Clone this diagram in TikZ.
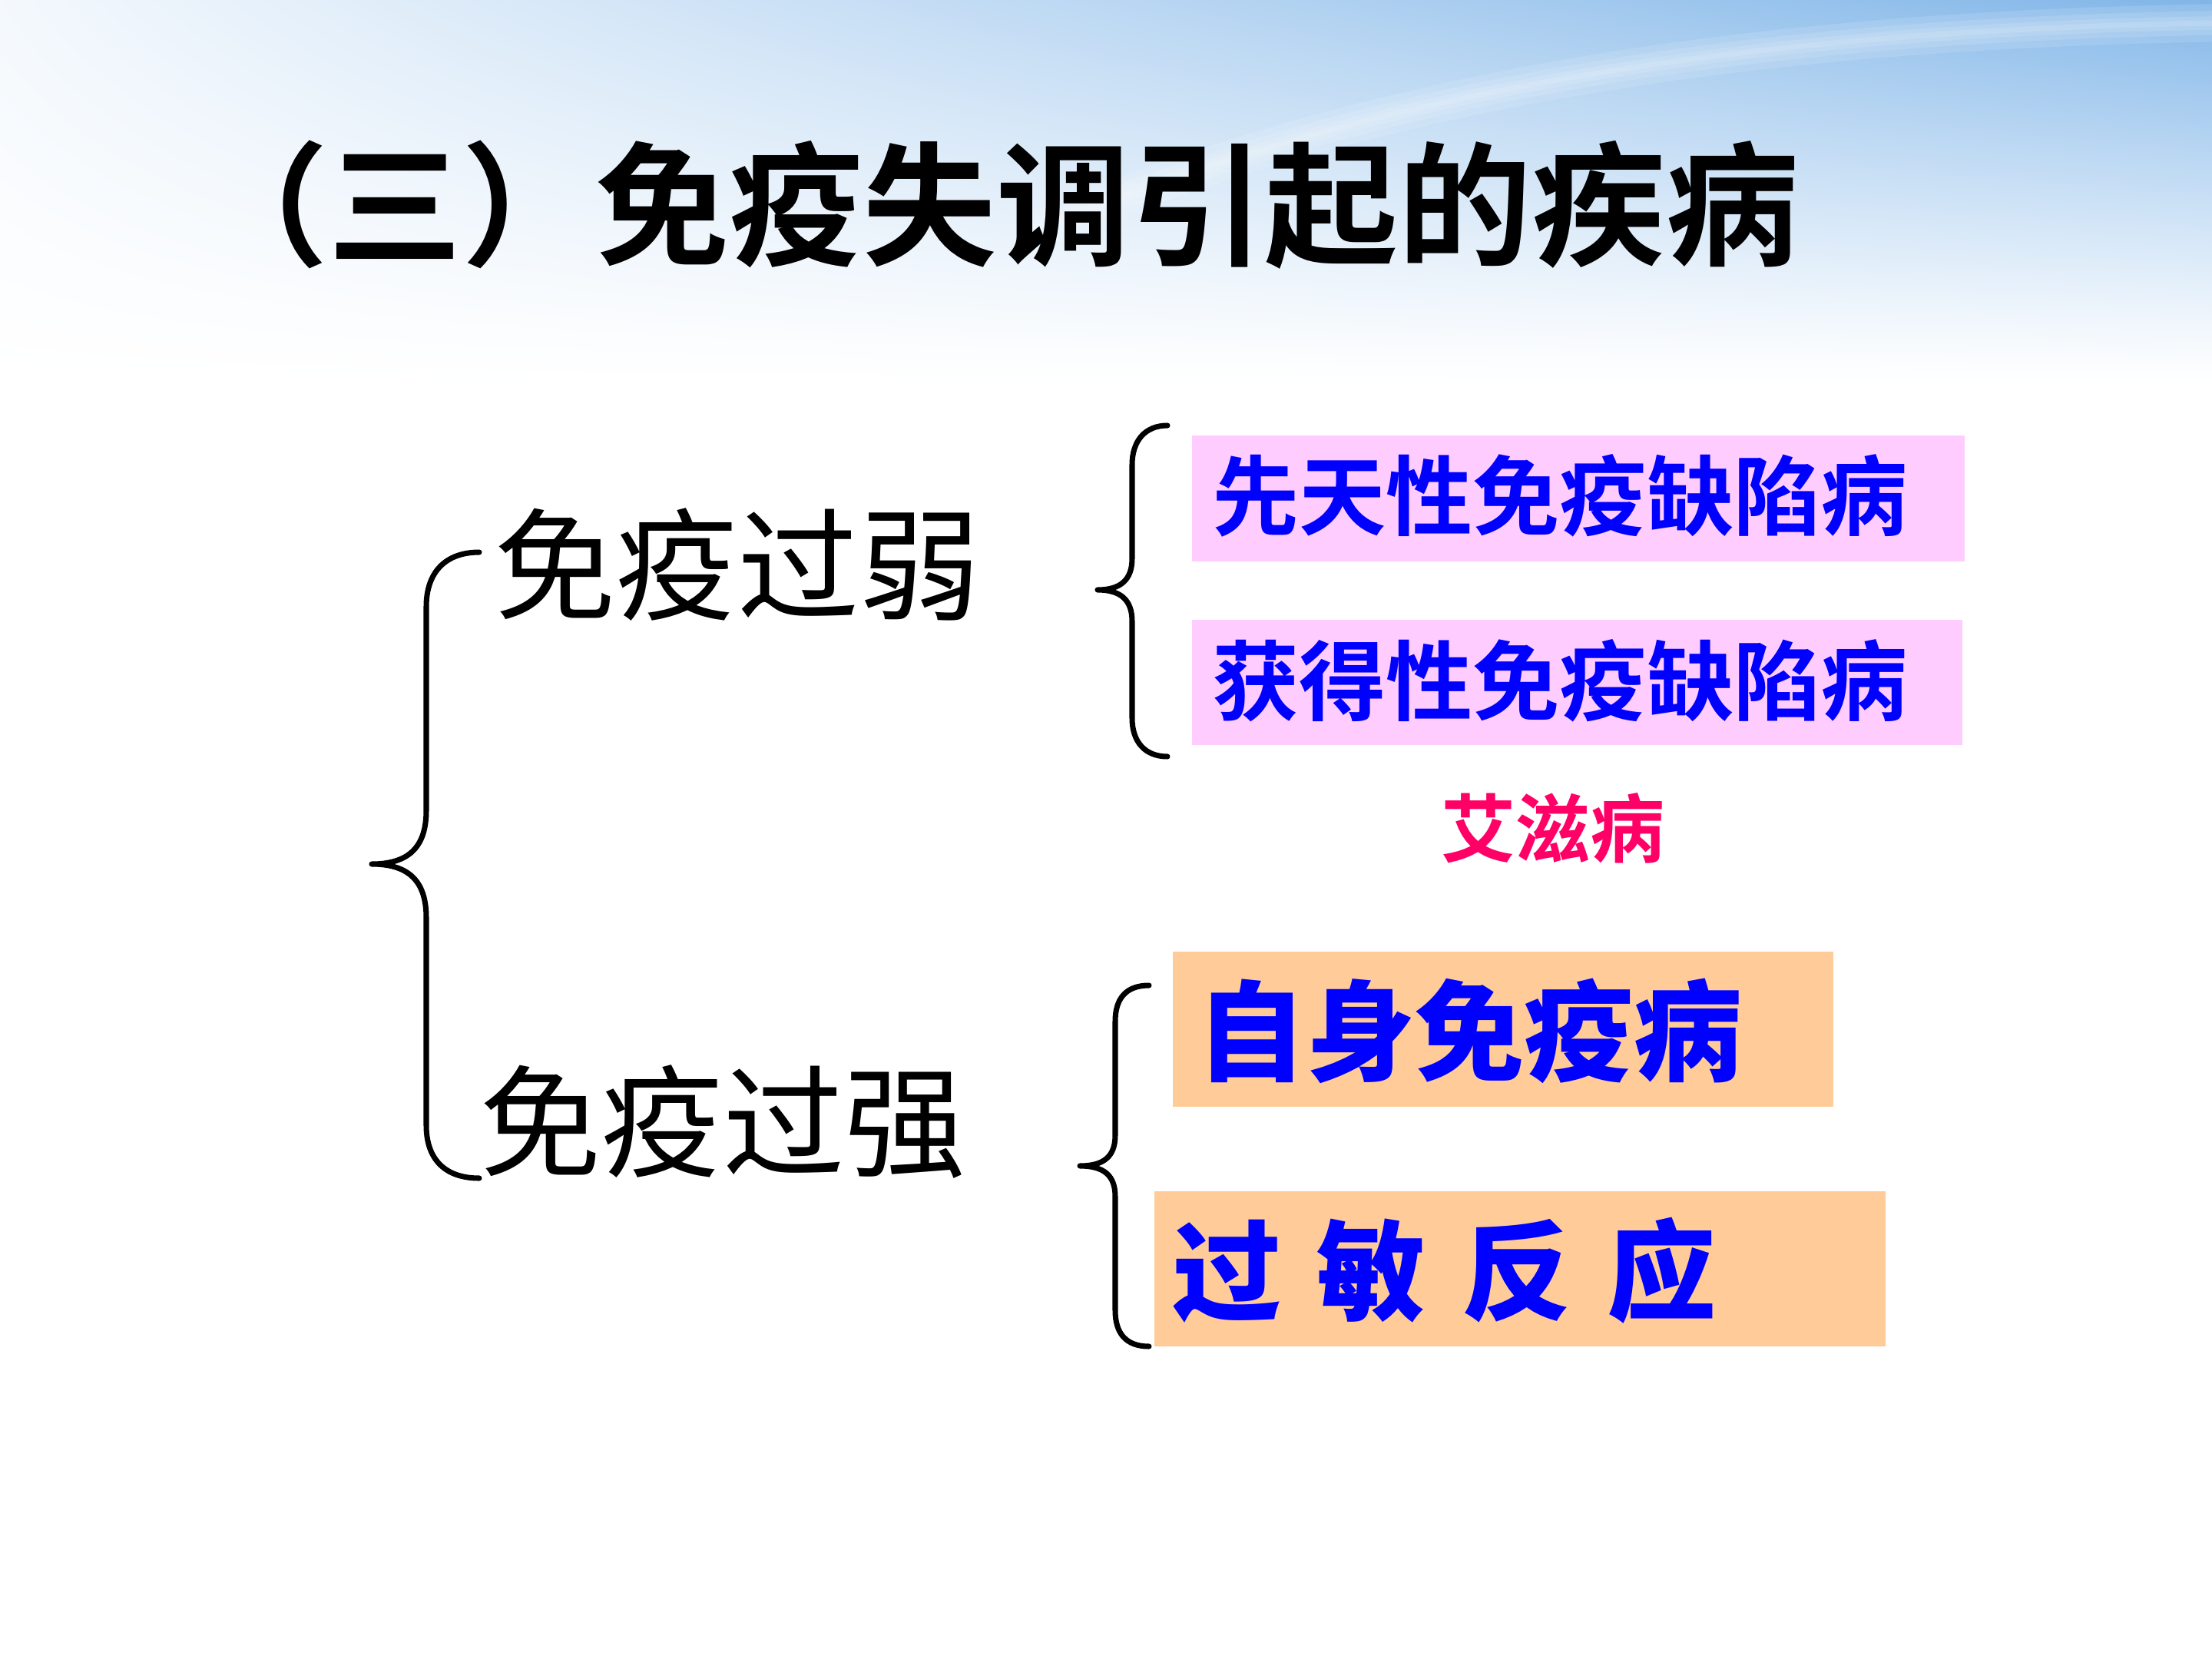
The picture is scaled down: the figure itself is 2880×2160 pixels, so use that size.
\documentclass[tikz,border=0pt]{standalone}
\usepackage{fontspec}
\newfontfamily\cjk{Noto Sans CJK SC}
\newfontfamily\cjkb{Noto Sans CJK SC Bold}
\newfontfamily\cjkk{Noto Sans CJK SC Black}
\definecolor{kblue}{HTML}{0000FF}
\definecolor{pinkbg}{HTML}{FFCCFF}
\definecolor{orangebg}{HTML}{FFCC99}
\definecolor{aidsred}{HTML}{FF0066}
\pgfdeclarefunctionalshading{sky}{\pgfpoint{-50bp}{-50bp}}{\pgfpoint{50bp}{50bp}}{}{
  25 add 50 div
  exch 25 add 50 div
  0.82 mul 0.08 add
  exch dup 0 lt {pop 0} if dup 1.15 exp exch pop
  mul
  dup 0.55 mul 1 exch sub
  exch dup 0.32 mul 1 exch sub
  exch 0.10 mul 1 exch sub
}
\tikzset{
  txt/.style={inner sep=0pt, outer sep=0pt},
  brace/.style={line width=2pt, line cap=round, line join=round, draw=black},
  streak/.style={white, opacity=0.12, line cap=round},
  pinkbox/.style={fill=pinkbg, draw=none, inner sep=0pt, anchor=north west},
  orangebox/.style={fill=orangebg, draw=none, inner sep=0pt, anchor=north west},
  titletxt/.style={txt, font=\cjkb\fontsize{49.5pt}{55pt}\selectfont, text=black},
  leveltxt/.style={txt, font=\cjk\fontsize{45pt}{50pt}\selectfont, text=black},
  pinktxt/.style={txt, font=\cjkb\fontsize{32.2pt}{36pt}\selectfont, text=kblue},
  orangetxt/.style={txt, font=\cjkk\fontsize{40.4pt}{45pt}\selectfont, text=kblue},
  aidstxt/.style={txt, font=\cjkb\fontsize{27.6pt}{31pt}\selectfont, text=aidsred},
}
\begin{document}
\begin{tikzpicture}[x=0.01cm, y=-0.01cm]
\useasboundingbox (0,0) rectangle (2880,2160);
\fill[white] (0,0) rectangle (2880,2160);
% background sky band
\shade[shading=sky] (0,0) rectangle (2880,500);
\foreach \w in {14,9,5,2}{
  \draw[streak, line width=\w pt]
    (1350,300) .. controls (1800,110) and (2300,40) .. (2880,30);
}

% title
\node[titletxt, anchor=base] (title) at (1298,332) {（三）免疫失调引起的疾病};

% level 1 labels
\node[leveltxt, anchor=base] (weak) at (960,795) {免疫过弱};
\node[leveltxt, anchor=base] (strong) at (941,1520) {免疫过强};

% boxes
\node[pinkbox, minimum width=10.06cm, minimum height=1.64cm] (p1) at (1551,566) {};
\node[pinkbox, minimum width=10.03cm, minimum height=1.63cm] (p2) at (1551,806) {};
\node[orangebox, minimum width=8.60cm, minimum height=2.02cm] (o1) at (1526,1238) {};
\node[orangebox, minimum width=9.52cm, minimum height=2.02cm] (o2) at (1502,1550) {};

\node[pinktxt, anchor=base west] (t1) at (1578,688) {先天性免疫缺陷病};
\node[pinktxt, anchor=base west] (t2) at (1578,929) {获得性免疫缺陷病};
\node[aidstxt, anchor=base] (aids) at (2022,1115) {艾滋病};
\node[orangetxt, anchor=base west] (t3) at (1558,1396) {自身免疫病};
\node[orangetxt, anchor=base west] (t4) at (1526,1708) {过\hspace{0.33em}敏\hspace{0.33em}反\hspace{0.33em}应};

% braces
\coordinate (bA) at (624,719);
\coordinate (bT) at (484,1125);
\coordinate (bB) at (624,1534);
\draw[brace] (bA) .. controls (580,719) and (555,745) .. (555,790)
  -- (555,1055) .. controls (555,1100) and (535,1125) .. (bT)
  .. controls (535,1125) and (555,1150) .. (555,1195)
  -- (555,1465) .. controls (555,1510) and (580,1534) .. (bB);

\coordinate (uA) at (1520,554);
\coordinate (uT) at (1429,768);
\coordinate (uB) at (1520,985);
\draw[brace] (uA) .. controls (1490,554) and (1474,575) .. (1474,605)
  -- (1474,727) .. controls (1474,754) and (1460,768) .. (uT)
  .. controls (1460,768) and (1474,782) .. (1474,809)
  -- (1474,935) .. controls (1474,965) and (1490,985) .. (uB);

\coordinate (lA) at (1496,1283);
\coordinate (lT) at (1406,1518);
\coordinate (lB) at (1496,1753);
\draw[brace] (lA) .. controls (1466,1283) and (1452,1300) .. (1452,1330)
  -- (1452,1478) .. controls (1452,1505) and (1438,1518) .. (lT)
  .. controls (1438,1518) and (1452,1531) .. (1452,1558)
  -- (1452,1706) .. controls (1452,1736) and (1466,1753) .. (lB);
\end{tikzpicture}
\end{document}
